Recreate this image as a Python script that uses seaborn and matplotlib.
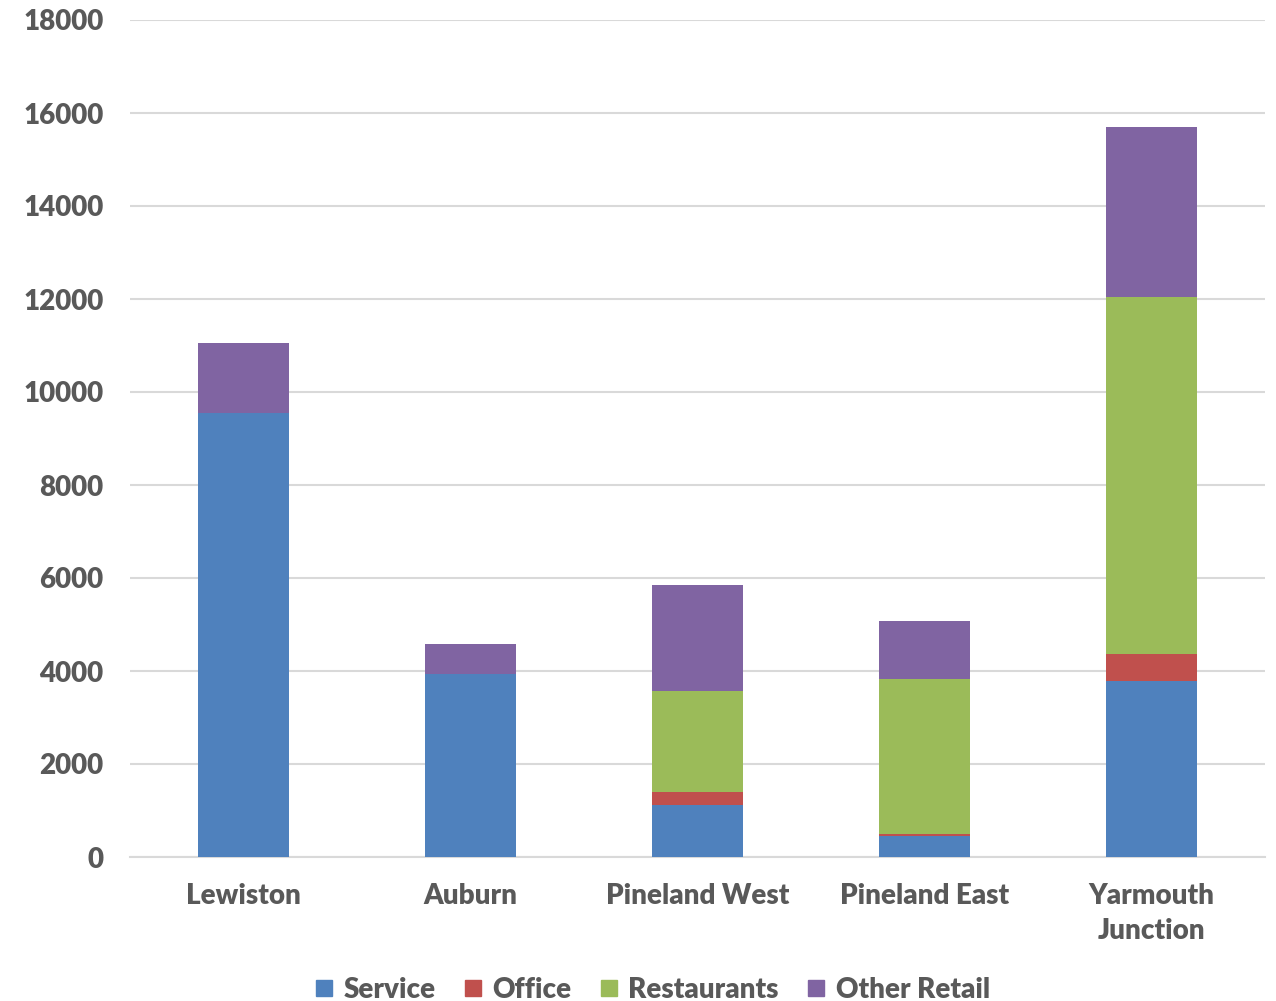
import matplotlib
matplotlib.use("Agg")
import matplotlib.pyplot as plt
import seaborn as sns
import pandas as pd
import numpy as np
from matplotlib.lines import Line2D

categories = ["Lewiston", "Auburn", "Pineland West", "Pineland East", "Yarmouth\nJunction"]
series_names = ["Service", "Office", "Restaurants", "Other Retail"]
service = [9550, 3930, 1125, 445, 3795]
office = [0, 0, 265, 45, 560]
restaurants = [0, 0, 2185, 3345, 7695]
other_retail = [1500, 640, 2280, 1250, 3655]
colors = ["#4F81BD", "#C0504D", "#9BBB59", "#8064A2"]
yticks = [0, 2000, 4000, 6000, 8000, 10000, 12000, 14000, 16000, 18000]

sns.set_theme(style="white")
plt.rcParams['font.family'] = ['Lato', 'DejaVu Sans']
text_color = "#595959"
grid_color = "#D9D9D9"

series = [service, office, restaurants, other_retail]
cum = np.cumsum(np.array(series), axis=0)

fig = plt.figure(figsize=(12.76, 10.01), dpi=100)
ax = fig.add_axes([130/1276, 1 - 857/1001, 1135/1276, 837/1001])

# draw cumulative totals from top layer down so lower layers overlay
for i in reversed(range(len(series))):
    df = pd.DataFrame({"cat": categories, "val": cum[i]})
    sns.barplot(data=df, x="cat", y="val", color=colors[i], width=0.405,
                saturation=1, ax=ax, order=categories, zorder=3, linewidth=0)

ax.set_xlim(-0.5, 4.5)
ax.set_ylim(0, 18000)
ax.set_yticks(yticks)
ax.set_yticklabels([str(v) for v in yticks])
ax.yaxis.grid(True, color=grid_color, linewidth=1.5, zorder=0)
ax.set_axisbelow(True)
ax.set_xlabel("")
ax.set_ylabel("")
for s in ["top", "right", "left"]:
    ax.spines[s].set_visible(False)
ax.spines["bottom"].set_color(grid_color)
ax.spines["bottom"].set_linewidth(1.5)
ax.tick_params(axis="both", length=0, colors=text_color, labelsize=20)
ax.tick_params(axis="y", pad=19)
ax.tick_params(axis="x", pad=19)
for lbl in ax.get_xticklabels() + ax.get_yticklabels():
    lbl.set_fontweight("heavy")
    lbl.set_color(text_color)
for lbl in ax.get_xticklabels():
    lbl.set_linespacing(1.4)

handles = [Line2D([0], [0], marker="s", linestyle="", markersize=12,
                  markerfacecolor=c, markeredgecolor=c) for c in colors]
leg = fig.legend(handles, series_names, loc="center", bbox_to_anchor=(652/1276, 1 - 990/1001),
                 ncol=4, frameon=False, handlelength=0.7, handletextpad=0.35, columnspacing=1.0,
                 prop={"size": 20, "weight": "heavy"})
for t in leg.get_texts():
    t.set_color(text_color)

fig.savefig("out.png", dpi=100)
